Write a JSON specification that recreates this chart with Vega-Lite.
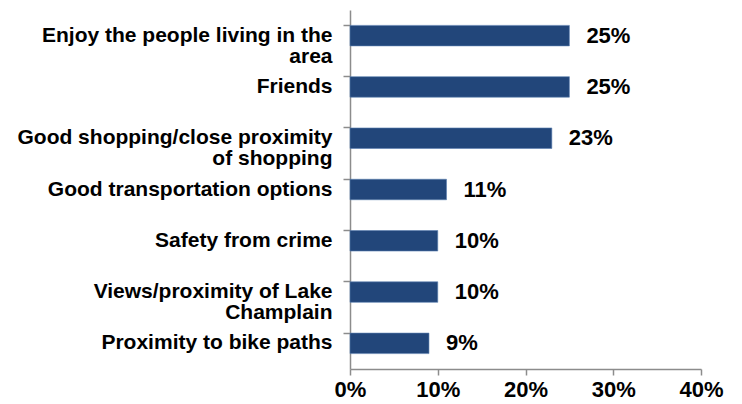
{
  "$schema": "https://vega.github.io/schema/vega-lite/v6.json",
  "width": 351,
  "height": 359,
  "autosize": "none",
  "padding": {"left": 350, "top": 10, "right": 41, "bottom": 35},
  "background": "white",
  "config": {"view": {"stroke": null}, "font": "Liberation Sans"},
  "data": {
    "values": [
      {"reason": "Enjoy the people living in the|area", "pct": 0.25, "label": "25%"},
      {"reason": "Friends", "pct": 0.25, "label": "25%"},
      {"reason": "Good shopping/close proximity|of shopping", "pct": 0.23, "label": "23%"},
      {"reason": "Good transportation options", "pct": 0.11, "label": "11%"},
      {"reason": "Safety from crime", "pct": 0.10, "label": "10%"},
      {"reason": "Views/proximity of Lake|Champlain", "pct": 0.10, "label": "10%"},
      {"reason": "Proximity to bike paths", "pct": 0.09, "label": "9%"}
    ]
  },
  "encoding": {
    "y": {
      "field": "reason",
      "type": "nominal",
      "sort": null,
      "scale": {"paddingInner": 0.6, "paddingOuter": 0.3},
      "axis": {
        "title": null,
        "bandPosition": 0,
        "domainColor": "#8c8c8c",
        "domainWidth": 1.5,
        "tickColor": "#8c8c8c",
        "tickWidth": 1.5,
        "tickSize": 7,
        "labelPadding": 11,
        "labelFont": "Liberation Sans",
        "labelFontWeight": "bold",
        "labelFontSize": 21,
        "labelColor": "black",
        "labelLineHeight": 21,
        "labelLimit": 400,
        "labelExpr": "split(datum.label, '|')"
      }
    }
  },
  "layer": [
    {
      "mark": {"type": "bar", "color": "#22467A", "stroke": "#5a7fb0", "strokeWidth": 0.6},
      "encoding": {
        "x": {
          "field": "pct",
          "type": "quantitative",
          "scale": {"domain": [0, 0.4], "nice": false},
          "axis": {
            "title": null,
            "format": ".0%",
            "values": [0, 0.1, 0.2, 0.3, 0.4],
            "grid": false,
            "domainColor": "#8c8c8c",
            "domainWidth": 1.5,
            "tickColor": "#8c8c8c",
            "tickWidth": 1.5,
            "tickSize": 6,
            "labelPadding": 4,
            "labelFont": "Liberation Sans",
            "labelFontWeight": "bold",
            "labelFontSize": 22,
            "labelColor": "black",
            "labelFlush": false,
            "labelBaseline": "top"
          }
        }
      }
    },
    {
      "mark": {"type": "text", "align": "left", "baseline": "middle", "dx": 17, "fontSize": 22, "fontWeight": "bold", "font": "Liberation Sans", "color": "black"},
      "encoding": {
        "x": {"field": "pct", "type": "quantitative"},
        "text": {"field": "label"}
      }
    }
  ]
}
